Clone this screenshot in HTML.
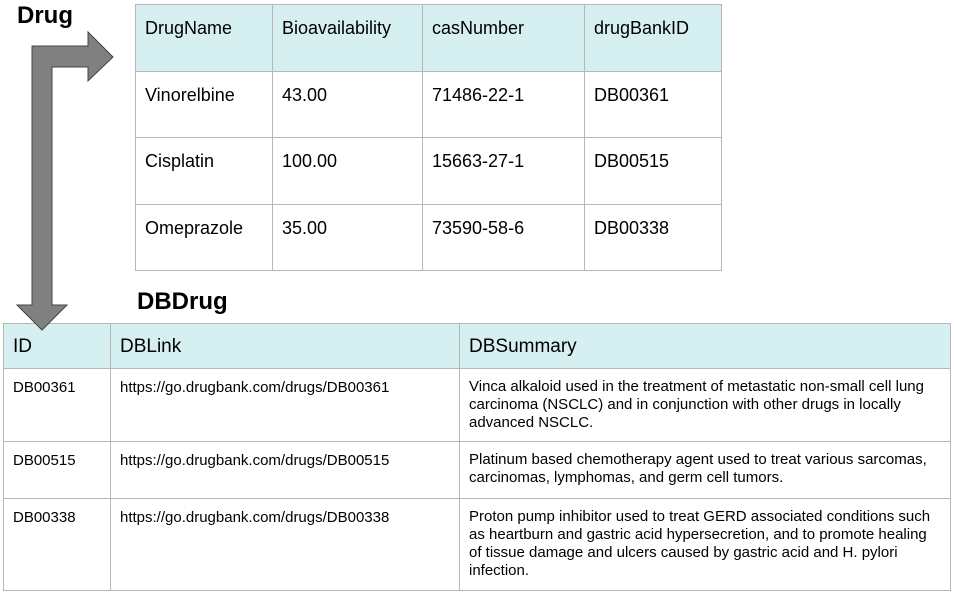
<!DOCTYPE html>
<html><head><meta charset="utf-8"><style>
body{margin:0;width:954px;height:594px;background:#fff;position:relative;overflow:hidden;font-family:"Liberation Sans",Arial,sans-serif;color:#000}
.a{position:absolute}
table{position:absolute;border-collapse:collapse;table-layout:fixed}
td{border:1px solid #b7b7b7;vertical-align:top;padding:0 9px;box-sizing:border-box}
.t1 td{font-size:18px;padding-top:13px}
.t1 tr.h td{background:#d6f0f2}
.t2 tr.h td{background:#d6f0f2;font-size:19px;padding-top:12px}
.t2 td{font-size:15px;padding-top:10px}
.t2 td.s{font-size:15px;line-height:18px;padding-top:9px;padding-right:16px}
</style></head><body>
<div class="a" style="left:17px;top:2px;font-size:24px;font-weight:bold">Drug</div>
<div class="a" style="left:137px;top:288px;font-size:24px;font-weight:bold">DBDrug</div>
<table class="t1" style="left:135px;top:4px;width:586px">
<colgroup><col style="width:137px"><col style="width:150px"><col style="width:162px"><col style="width:137px"></colgroup>
<tr class="h" style="height:67px"><td>DrugName</td><td>Bioavailability</td><td>casNumber</td><td>drugBankID</td></tr>
<tr style="height:66px"><td>Vinorelbine</td><td>43.00</td><td>71486-22-1</td><td>DB00361</td></tr>
<tr style="height:67px"><td>Cisplatin</td><td>100.00</td><td>15663-27-1</td><td>DB00515</td></tr>
<tr style="height:66px"><td>Omeprazole</td><td>35.00</td><td>73590-58-6</td><td>DB00338</td></tr>
</table>
<table class="t2" style="left:3px;top:323px;width:947px">
<colgroup><col style="width:107px"><col style="width:349px"><col style="width:491px"></colgroup>
<tr class="h" style="height:45px"><td>ID</td><td>DBLink</td><td>DBSummary</td></tr>
<tr style="height:73px"><td>DB00361</td><td>https://go.drugbank.com/drugs/DB00361</td><td class="s">Vinca alkaloid used in the treatment of metastatic non-small cell lung carcinoma (NSCLC) and in conjunction with other drugs in locally advanced NSCLC.</td></tr>
<tr style="height:57px"><td>DB00515</td><td>https://go.drugbank.com/drugs/DB00515</td><td class="s">Platinum based chemotherapy agent used to treat various sarcomas, carcinomas, lymphomas, and germ cell tumors.</td></tr>
<tr style="height:92px"><td>DB00338</td><td>https://go.drugbank.com/drugs/DB00338</td><td class="s">Proton pump inhibitor used to treat GERD associated conditions such as heartburn and gastric acid hypersecretion, and to promote healing of tissue damage and ulcers caused by gastric acid and H. pylori infection.</td></tr>
</table>
<svg class="a" style="left:0;top:0" width="954" height="594">
<path d="M32 305 L32 46 L88 46 L88 32 L113 57 L88 81 L88 67 L52 67 L52 305 L67 305 L42 330 L17 305 Z" fill="#808080" stroke="#444" stroke-width="1"/>
</svg>
</body></html>
